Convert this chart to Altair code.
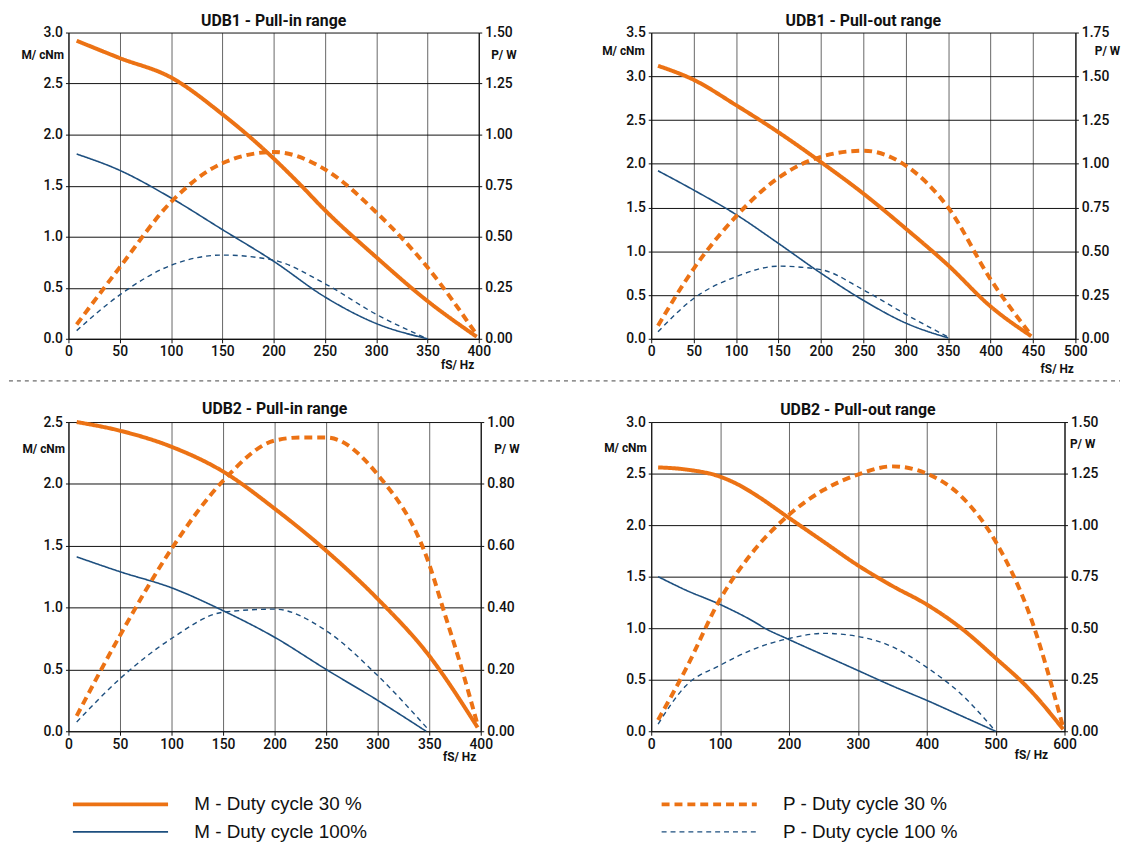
import altair as alt
import pandas as pd

ORANGE = "#ec7214"
BLUE = "#1d4f7f"
FONT = "Roboto, 'DejaVu Sans', sans-serif"
LEG_FONT = "'Liberation Sans', Arial, sans-serif"

# order: column 1 = M series, column 2 = P series
SERIES = ["M - Duty cycle 30 %", "M - Duty cycle 100%",
          "P - Duty cycle 30 %", "P - Duty cycle 100 %"]

# ---------------- UDB1 - Pull-in range ----------------
u1i_f_m30 = [8, 50, 100, 150, 190, 225, 250, 300, 350, 398]
u1i_m30 = [2.92, 2.75, 2.56, 2.20, 1.86, 1.52, 1.26, 0.80, 0.37, 0.02]
u1i_f_m100 = [8, 50, 100, 150, 200, 250, 300, 350]
u1i_m100 = [1.81, 1.65, 1.38, 1.07, 0.76, 0.41, 0.15, 0.0]
u1i_f_p30 = [8, 50, 100, 150, 200, 250, 300, 350, 398]
u1i_p30 = [0.07, 0.35, 0.67, 0.86, 0.915, 0.83, 0.62, 0.35, 0.02]
u1i_f_p100 = [8, 50, 100, 150, 200, 250, 300, 350]
u1i_p100 = [0.04, 0.215, 0.36, 0.41, 0.385, 0.27, 0.12, 0.0]

# ---------------- UDB1 - Pull-out range ----------------
u1o_f_m30 = [8, 50, 100, 150, 200, 250, 300, 350, 400, 448]
u1o_m30 = [3.12, 2.96, 2.67, 2.36, 2.02, 1.66, 1.26, 0.84, 0.37, 0.03]
u1o_f_m100 = [8, 50, 100, 150, 200, 250, 300, 350]
u1o_m100 = [1.92, 1.70, 1.42, 1.09, 0.75, 0.44, 0.18, 0.01]
u1o_f_p30 = [8, 50, 100, 150, 200, 250, 300, 350, 400, 448]
u1o_p30 = [0.075, 0.40, 0.70, 0.92, 1.04, 1.075, 0.99, 0.75, 0.34, 0.02]
u1o_f_p100 = [8, 50, 100, 150, 200, 250, 300, 350]
u1o_p100 = [0.04, 0.23, 0.355, 0.415, 0.395, 0.28, 0.14, 0.01]

# ---------------- UDB2 - Pull-in range ----------------
u2i_f_m30 = [8, 50, 100, 150, 200, 250, 300, 350, 397]
u2i_m30 = [2.50, 2.43, 2.30, 2.10, 1.80, 1.46, 1.07, 0.61, 0.03]
u2i_f_m100 = [8, 50, 100, 150, 200, 250, 300, 347]
u2i_m100 = [1.41, 1.29, 1.16, 0.975, 0.76, 0.50, 0.25, 0.0]
u2i_f_p30 = [8, 50, 100, 150, 200, 225, 250, 300, 350, 365, 380, 397]
u2i_p30 = [0.05, 0.31, 0.59, 0.81, 0.94, 0.95, 0.95, 0.83, 0.54, 0.38, 0.22, 0.02]
u2i_f_p100 = [8, 50, 100, 150, 200, 250, 300, 348]
u2i_p100 = [0.03, 0.17, 0.30, 0.385, 0.395, 0.325, 0.18, 0.01]

# ---------------- UDB2 - Pull-out range ----------------
u2o_f_m30 = [10, 50, 100, 130, 150, 200, 250, 300, 350, 400, 450, 500, 550, 598]
u2o_m30 = [2.56, 2.54, 2.47, 2.38, 2.30, 2.07, 1.84, 1.61, 1.41, 1.23, 1.00, 0.71, 0.40, 0.02]
u2o_f_m100 = [10, 50, 100, 150, 165, 200, 250, 300, 350, 400, 450, 500]
u2o_m100 = [1.50, 1.37, 1.23, 1.06, 1.00, 0.89, 0.74, 0.59, 0.44, 0.30, 0.15, 0.0]
u2o_f_p30 = [10, 50, 100, 150, 200, 250, 300, 350, 400, 450, 500, 550, 598]
u2o_p30 = [0.055, 0.30, 0.64, 0.88, 1.05, 1.17, 1.245, 1.285, 1.25, 1.14, 0.92, 0.56, 0.02]
u2o_f_p100 = [10, 50, 100, 150, 200, 250, 300, 350, 400, 450, 500]
u2o_p100 = [0.035, 0.22, 0.32, 0.40, 0.45, 0.475, 0.46, 0.41, 0.31, 0.18, 0.0]

# long horizontal stroke used as legend symbol (scaled by sqrt(symbolSize)/2)
LEGEND = alt.Legend(
    orient="none", legendX=43, legendY=769, columns=2, symbolType="M-8,0H8",
    symbolSize=144, labelFont=LEG_FONT, labelFontSize=19, labelColor="#111",
    labelOffset=65, columnPadding=288, rowPadding=8, title=None, labelLimit=400,
)


def frange(lo, hi, step):
    out, v = [], lo
    while v <= hi + 1e-9:
        out.append(round(v, 4))
        v += step
    return out


def panel(title, fm30, m30, fm100, m100, fp30, p30, fp100, p100,
          xmax, xstep, mmax, mstep, pmax, pstep, w, h, lay, separator=False):
    mdf = pd.DataFrame({"f": fm30 + fm100, "v": m30 + m100,
                        "series": [SERIES[0]] * len(m30) + [SERIES[1]] * len(m100)})
    pdf = pd.DataFrame({"f": fp30 + fp100, "v": p30 + p100,
                        "series": [SERIES[2]] * len(p30) + [SERIES[3]] * len(p100)})
    color = alt.Color("series:N", scale=alt.Scale(domain=SERIES, range=[ORANGE, BLUE, ORANGE, BLUE]),
                      legend=LEGEND)
    dash = alt.StrokeDash("series:N", scale=alt.Scale(domain=SERIES, range=[[1, 0], [1, 0], [8, 5], [5, 4]]),
                          legend=LEGEND)
    sw = alt.StrokeWidth("series:N", scale=alt.Scale(type="ordinal", domain=SERIES, range=[4, 1.6, 4, 1.4]),
                         legend=LEGEND)
    x = alt.X("f:Q", scale=alt.Scale(domain=[0, xmax], nice=False),
              axis=alt.Axis(values=list(range(0, xmax + 1, xstep)), title="fS/ Hz",
                            titleX=w + lay["fx"], titleY=lay["fy"], titleAlign="right",
                            titleBaseline="middle", grid=True, gridColor="#666666",
                            tickSize=4, labelPadding=2, labelFlush=False))
    ym = alt.Y("v:Q", scale=alt.Scale(domain=[0, mmax], nice=False),
               axis=alt.Axis(orient="left", values=frange(0, mmax, mstep), format=".1f",
                             title="M/ cNm", titleAngle=0, titleX=lay["mx"], titleY=lay["my"],
                             titleAlign="right", titleBaseline="middle", grid=True,
                             gridColor="#111111", tickSize=3, labelPadding=3))
    yp = alt.Y("v:Q", scale=alt.Scale(domain=[0, pmax], nice=False),
               axis=alt.Axis(orient="right", values=frange(0, pmax, pstep), format=".2f",
                             title="P/ W", titleAngle=0, titleX=lay["px"], titleY=lay["py"],
                             titleAlign="left", titleBaseline="middle", grid=False,
                             tickSize=3, labelPadding=3))
    ml = alt.Chart(mdf).mark_line(interpolate="monotone").encode(
        x=x, y=ym, color=color, strokeDash=dash, strokeWidth=sw, detail="series:N")
    pl = alt.Chart(pdf).mark_line(interpolate="monotone").encode(
        x=x, y=yp, color=color, strokeDash=dash, strokeWidth=sw, detail="series:N")
    layers = [ml, pl]
    if separator:
        sep = alt.Chart(pd.DataFrame({"d": [0]})).mark_rule(
            color="#444444", strokeDash=[4, 4], strokeWidth=1).encode(
            x=alt.value(-60), x2=alt.value(1061), y=alt.value(351.5))
        layers.append(sep)
    return alt.layer(*layers).resolve_scale(y="independent").properties(
        width=w, height=h,
        title=alt.TitleParams(text=title, fontSize=16, font=FONT, fontWeight="bold",
                              anchor="middle", baseline="bottom", offset=-19, color="#111"))


p1 = panel("UDB1 - Pull-in range", u1i_f_m30, u1i_m30, u1i_f_m100, u1i_m100,
           u1i_f_p30, u1i_p30, u1i_f_p100, u1i_p100,
           400, 50, 3.0, 0.5, 1.5, 0.25, 414, 309,
           dict(mx=-5, my=22, px=12, py=22, fx=-5, fy=26), separator=True)
p2 = panel("UDB1 - Pull-out range", u1o_f_m30, u1o_m30, u1o_f_m100, u1o_m100,
           u1o_f_p30, u1o_p30, u1o_f_p100, u1o_p100,
           500, 50, 3.5, 0.5, 1.75, 0.25, 428, 309,
           dict(mx=-7, my=18, px=19, py=18, fx=-2, fy=30))
p3 = panel("UDB2 - Pull-in range", u2i_f_m30, u2i_m30, u2i_f_m100, u2i_m100,
           u2i_f_p30, u2i_p30, u2i_f_p100, u2i_p100,
           400, 50, 2.5, 0.5, 1.0, 0.2, 416, 312,
           dict(mx=-4, my=27, px=13, py=27, fx=-5, fy=25))
p4 = panel("UDB2 - Pull-out range", u2o_f_m30, u2o_m30, u2o_f_m100, u2o_m100,
           u2o_f_p30, u2o_p30, u2o_f_p100, u2o_p100,
           600, 100, 3.0, 0.5, 1.5, 0.25, 417, 312,
           dict(mx=-5, my=26, px=5, py=22, fx=-17, fy=23))

chart = alt.concat(p1, p2, p3, p4, columns=2, bounds="flush",
                   spacing={"row": 84, "column": 172}).properties(
    padding={"left": 0, "top": 0, "right": 0, "bottom": 0}
).configure_view(stroke="transparent").configure_axis(
    labelFont=FONT, labelFontSize=14, labelFontWeight=500, labelColor="#111111",
    titleFont=FONT, titleFontSize=12, titleFontWeight="bold", titleColor="#111111",
    tickColor="#111111", domainColor="#111111", domainWidth=1.2, gridWidth=1, gridOpacity=1,
)

chart.save("out.html", embed_options={"renderer": "svg", "actions": False})
